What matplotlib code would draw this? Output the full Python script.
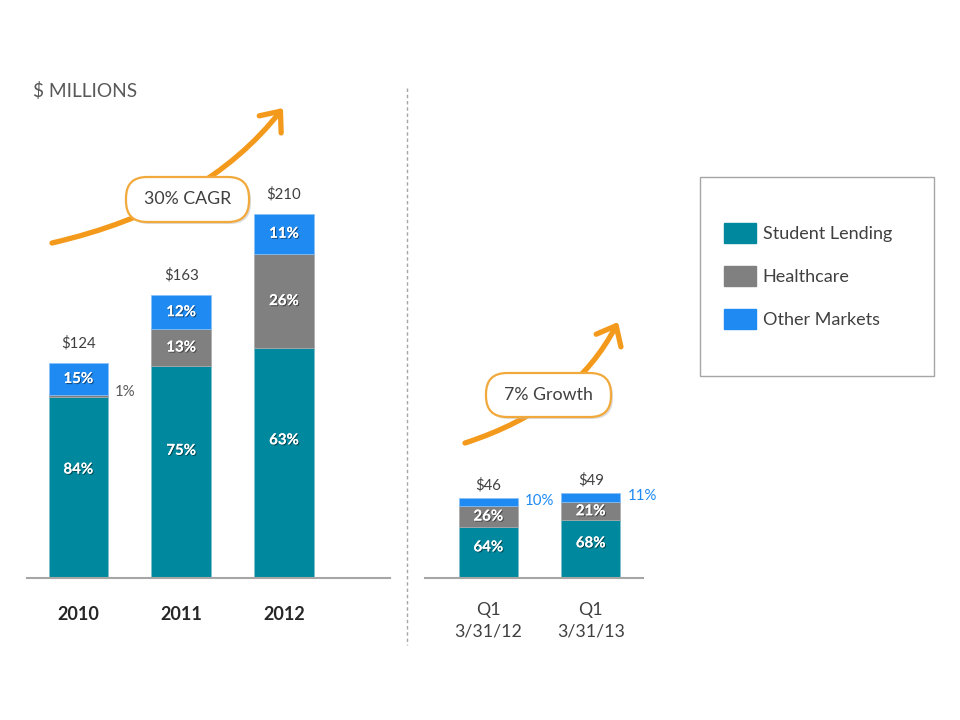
import matplotlib
matplotlib.use("Agg")
import matplotlib.pyplot as plt
import matplotlib.patheffects as pe
from matplotlib.patches import Patch, FancyBboxPatch, Rectangle, FancyArrowPatch
from matplotlib.lines import Line2D
from matplotlib.transforms import IdentityTransform
import numpy as np

# annual revenue ($ millions) and mix (%)
years = ["2010", "2011", "2012"]
year_totals = [124, 163, 210]
year_student = [84, 75, 63]
year_health = [1, 13, 26]
year_other = [15, 12, 11]

# first quarter revenue and mix
quarters = ["Q1\n3/31/12", "Q1\n3/31/13"]
q_totals = [46, 49]
q_student = [64, 68]
q_health = [26, 21]
q_other = [10, 11]

series_names = ["Student Lending", "Healthcare", "Other Markets"]

TEAL = "#00899E"
GREY = "#808080"
BLUE = "#1E8AF2"
ORANGE = "#F39A1C"
TXT = "#404040"

plt.rcParams["font.family"] = ["Lato", "DejaVu Sans"]

W, H = 960, 720
fig = plt.figure(figsize=(9.6, 7.2), dpi=100)
ID = IdentityTransform()


def P(x, y):
    # image pixel (top-left origin) -> display pixel
    return (x, H - y)


YMAX = 498 / 1.735
ax1 = fig.add_axes([27 / W, 142 / H, 363 / W, 498 / H])
ax2 = fig.add_axes([425 / W, 142 / H, 218 / W, 498 / H])
ax1.set_xlim(-0.5, 3.03)
ax2.set_xlim(-0.62, 1.51)

shadow = [pe.withSimplePatchShadow(offset=(0.8, -0.8), shadow_rgbFace="black", alpha=0.45), pe.Normal()]
BW = 0.58


def stacked(ax, labels, totals, student, health, other):
    x = np.arange(len(labels))
    tot = np.array(totals, float)
    s = tot * np.array(student) / 100
    h = tot * np.array(health) / 100
    o = tot * np.array(other) / 100
    ax.bar(x, s, width=BW, color=TEAL, edgecolor="#7fbfca", linewidth=0.5)
    ax.bar(x, h, bottom=s, width=BW, color=GREY, edgecolor="#a9a9a9", linewidth=0.5)
    ax.bar(x, o, bottom=s + h, width=BW, color=BLUE, edgecolor="#8cc0f5", linewidth=0.5)
    ax.set_ylim(0, YMAX)
    for side in ["left", "right", "top"]:
        ax.spines[side].set_visible(False)
    ax.spines["bottom"].set_color("#A6A6A6")
    ax.spines["bottom"].set_linewidth(1.5)
    ax.set_yticks([])
    ax.set_xticks(x, labels)
    ax.tick_params(axis="x", length=0)
    return x, s, h, o, tot


# left panel
x, s, h, o, tot = stacked(ax1, years, year_totals, year_student, year_health, year_other)
for i in range(len(years)):
    ax1.annotate(f"${year_totals[i]}", (x[i], tot[i]), xytext=(0, 9), textcoords="offset points",
                 ha="center", va="bottom", fontsize=10.8, color=TXT)
    ax1.text(x[i], s[i] * 0.6, f"{year_student[i]}%", ha="center", va="center",
             fontsize=10.8, fontweight="bold", color="white", path_effects=shadow)
    ax1.text(x[i], s[i] + h[i] + o[i] / 2, f"{year_other[i]}%", ha="center", va="center",
             fontsize=10.8, fontweight="bold", color="white", path_effects=shadow)
    if year_health[i] >= 5:
        ax1.text(x[i], s[i] + h[i] / 2, f"{year_health[i]}%", ha="center", va="center",
                 fontsize=10.8, fontweight="bold", color="white", path_effects=shadow)
    else:
        ax1.annotate(f"{year_health[i]}%", (x[i] + BW / 2, s[i] + h[i] / 2), xytext=(5, 3),
                     textcoords="offset points", ha="left", va="center", fontsize=10.8, color="#595959")
ax1.tick_params(axis="x", pad=20, labelsize=13, labelcolor="#262626")
for lab in ax1.get_xticklabels():
    lab.set_fontweight("bold")

# right panel
x, s, h, o, tot = stacked(ax2, quarters, q_totals, q_student, q_health, q_other)
for i in range(len(quarters)):
    ax2.annotate(f"${q_totals[i]}", (x[i], tot[i]), xytext=(0, 4), textcoords="offset points",
                 ha="center", va="bottom", fontsize=10.8, color=TXT)
    ax2.text(x[i], s[i] * 0.6, f"{q_student[i]}%", ha="center", va="center",
             fontsize=10.8, fontweight="bold", color="white", path_effects=shadow)
    ax2.text(x[i], s[i] + h[i] / 2, f"{q_health[i]}%", ha="center", va="center",
             fontsize=10.8, fontweight="bold", color="white", path_effects=shadow)
    ax2.annotate(f"{q_other[i]}%", (x[i] + BW / 2, s[i] + h[i] + o[i] / 2), xytext=(5, 1),
                 textcoords="offset points", ha="left", va="center", fontsize=10.8, color=BLUE)
ax2.tick_params(axis="x", pad=17, labelsize=12.8, labelcolor=TXT)
for lab in ax2.get_xticklabels():
    lab.set_linespacing(1.45)

# title
fig.text(33 / W, 1 - 91 / H, "$ MILLIONS", fontsize=13.8, color="#595959", va="center", ha="left")

# divider
fig.add_artist(Line2D([407 / W, 407 / W], [1 - 88 / H, 1 - 645 / H], transform=fig.transFigure,
                      color="#A6A6A6", lw=1, ls=(0, (2.5, 2))))


# growth arrows with labels
def growth(start, end, angA, angB, box, label):
    fig.add_artist(FancyArrowPatch(
        P(*start), P(*end), transform=ID, arrowstyle="->,head_length=0.6,head_width=0.5",
        connectionstyle=f"angle3,angleA={angA},angleB={angB}", mutation_scale=20,
        lw=3.8, color=ORANGE, shrinkA=0, shrinkB=0, capstyle="round", joinstyle="round"))
    bx, by, bw, bh = box
    x0, y0 = P(bx, by + bh)
    fig.add_artist(FancyBboxPatch((x0 + 2, y0 - 2), bw, bh, boxstyle="round,pad=0,rounding_size=21",
                                  transform=ID, fc="#bbbbbb", ec="none", alpha=0.5))
    fig.add_artist(FancyBboxPatch((x0, y0), bw, bh, boxstyle="round,pad=0,rounding_size=21",
                                  transform=ID, fc="white", ec="#F2A93B", lw=1.6))
    cx, cy = P(bx + bw / 2, by + bh / 2)
    fig.text(cx / W, cy / H, label, ha="center", va="center", fontsize=12.8, color=TXT)


growth((52, 243), (283, 108), 13, 52, (126, 177, 123, 45), "30% CAGR")
growth((465, 443), (618, 322), 18, 63, (486, 373, 125, 44), "7% Growth")

# legend
fig.add_artist(Rectangle(P(700, 376), 234, 199, transform=ID, fill=False, ec="#A6A6A6", lw=1))
handles = [Patch(color=c) for c in [TEAL, GREY, BLUE]]
fig.legend(handles, series_names, loc="center left", bbox_to_anchor=(724 / W, 1 - 276 / H),
           frameon=False, fontsize=13, labelcolor=TXT, handlelength=1.75, handleheight=1.3,
           labelspacing=1.3, handletextpad=0.4, borderpad=0, borderaxespad=0)

fig.savefig("out.png", dpi=100)
